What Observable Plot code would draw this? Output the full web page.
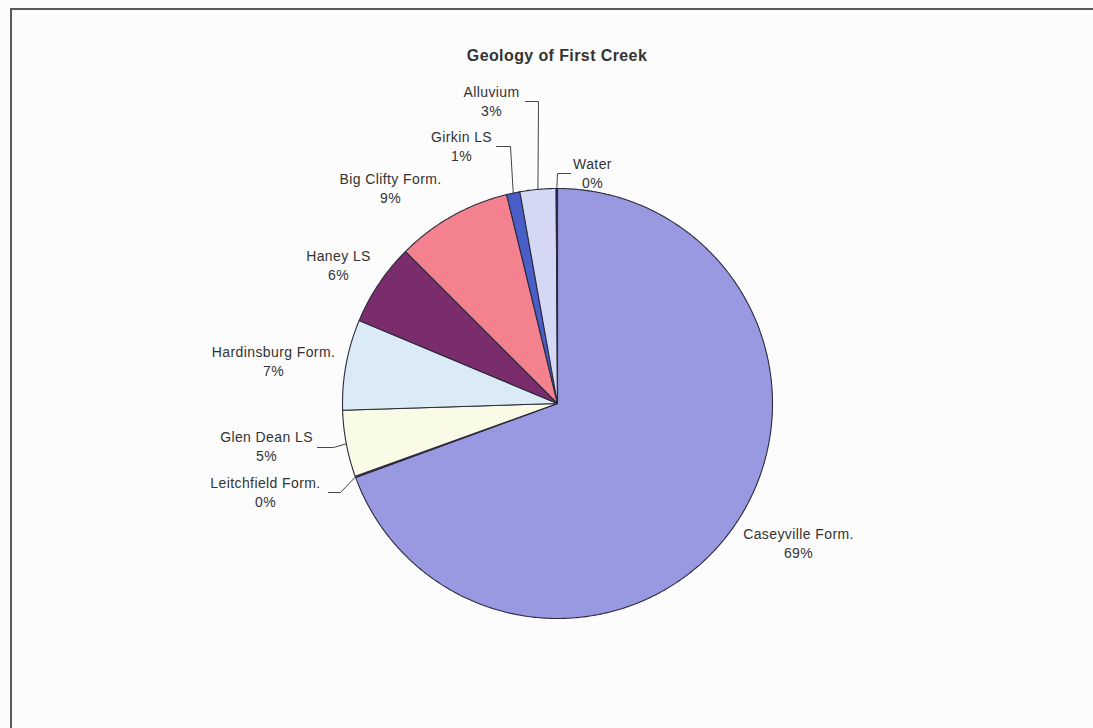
<!DOCTYPE html>
<html>
<head>
<meta charset="utf-8">
<script src="https://cdn.jsdelivr.net/npm/d3@7"></script>
<script src="https://cdn.jsdelivr.net/npm/@observablehq/plot@0.6"></script>
<style>
  html, body { margin: 0; padding: 0; background: #fcfcfc; }
  #wrap { position: relative; width: 1093px; height: 728px; overflow: hidden; background: #fcfcfc; }
  #frame { position: absolute; left: 10px; top: 8px; width: 1100px; height: 740px; border: 2px solid #5a5a5a; box-sizing: border-box; }
  #title { position: absolute; left: 0; width: 1114px; top: 47px; text-align: center; font-family: "Liberation Sans", Arial, sans-serif; font-weight: bold; font-size: 16px; letter-spacing: 0.4px; color: #333; }
  #chart { position: absolute; left: 0; top: 0; }
  #chart svg text { letter-spacing: 0.4px; }
</style>
</head>
<body>
<div id="wrap">
  <div id="frame"></div>
  <div id="chart"></div>
  <div id="title">Geology of First Creek</div>
</div>
<script>
// ---- data (clockwise from 12 o'clock) ----
const categories = ["Caseyville Form.", "Leitchfield Form.", "Glen Dean LS", "Hardinsburg Form.", "Haney LS", "Big Clifty Form.", "Girkin LS", "Alluvium", "Water"];
const shares = [69.4, 0.1, 5.0, 6.8, 6.2, 8.7, 1.0, 2.7, 0.1];
const sliceColors = ["#9999e2", "#993366", "#fafbe6", "#daebf6", "#7a2c6c", "#f4828e", "#4a5ec8", "#d5d8f4", "#000080"];

// ---- layout ----
const W = 1093, H = 728;
const CX = 557, CY = 403, R = 215;
// label block centres (pixels)
const labelLayout = {
  "Caseyville Form.": [798, 542],
  "Leitchfield Form.": [265, 491],
  "Glen Dean LS": [266, 445],
  "Hardinsburg Form.": [273, 360],
  "Haney LS": [338, 264],
  "Big Clifty Form.": [390, 187],
  "Girkin LS": [461, 145],
  "Alluvium": [491, 100],
  "Water": [592, 172]
};
// leader-line elbow and end points (pixels); start is computed on the arc
const leaderLayout = {
  "Alluvium": [[538, 101], [525, 101]],
  "Girkin LS": [[510, 146], [496, 146]],
  "Water": [[557, 173], [570, 173]],
  "Glen Dean LS": [[333, 447], [317, 447]],
  "Leitchfield Form.": [[340, 492], [328, 492]]
};

const rows = categories.map((c, i) => ({name: c, value: shares[i]}));
const arcs = d3.pie().sort(null).value(d => d.value).startAngle(0).endAngle(2 * Math.PI)(rows);

const px = a => CX + R * Math.sin(a);
const py = a => CY - R * Math.cos(a);

// polygon points for each slice
const slicePts = [];
for (const a of arcs) {
  const name = a.data.name;
  slicePts.push({name, x: CX, y: CY});
  const n = Math.max(2, Math.ceil((a.endAngle - a.startAngle) / (Math.PI / 360)));
  for (let k = 0; k <= n; k++) {
    const t = a.startAngle + (a.endAngle - a.startAngle) * k / n;
    slicePts.push({name, x: px(t), y: py(t)});
  }
}

// leader lines
const leaderPts = [];
for (const a of arcs) {
  const name = a.data.name;
  const L = leaderLayout[name];
  if (!L) continue;
  const mid = (a.startAngle + a.endAngle) / 2;
  leaderPts.push({name, x: px(mid), y: py(mid)});
  for (const p of L) leaderPts.push({name, x: p[0], y: p[1]});
}

const labels = arcs.map(a => ({
  name: a.data.name,
  x: labelLayout[a.data.name][0],
  y: labelLayout[a.data.name][1],
  text: a.data.name + "\n" + Math.round(a.data.value) + "%"
}));

const chart = Plot.plot({
  width: W,
  height: H,
  margin: 0,
  x: {domain: [0, W], range: [0, W], axis: null},
  y: {domain: [0, H], range: [0, H], axis: null},
  color: {domain: categories, range: sliceColors},
  style: {background: "transparent", fontFamily: "'Liberation Sans', Arial, sans-serif"},
  marks: [
    Plot.line(slicePts, {x: "x", y: "y", z: "name", fill: "name", stroke: "#2b2b3c", strokeWidth: 1.1, curve: "linear-closed", strokeLinejoin: "round"}),
    Plot.line(leaderPts, {x: "x", y: "y", z: "name", stroke: "#444", strokeWidth: 1}),
    Plot.text(labels, {x: "x", y: "y", text: "text", fontSize: 14, fill: "#333", textAnchor: "middle", lineAnchor: "middle", lineHeight: 1.36})
  ]
});
document.getElementById("chart").appendChild(chart);
</script>
</body>
</html>
